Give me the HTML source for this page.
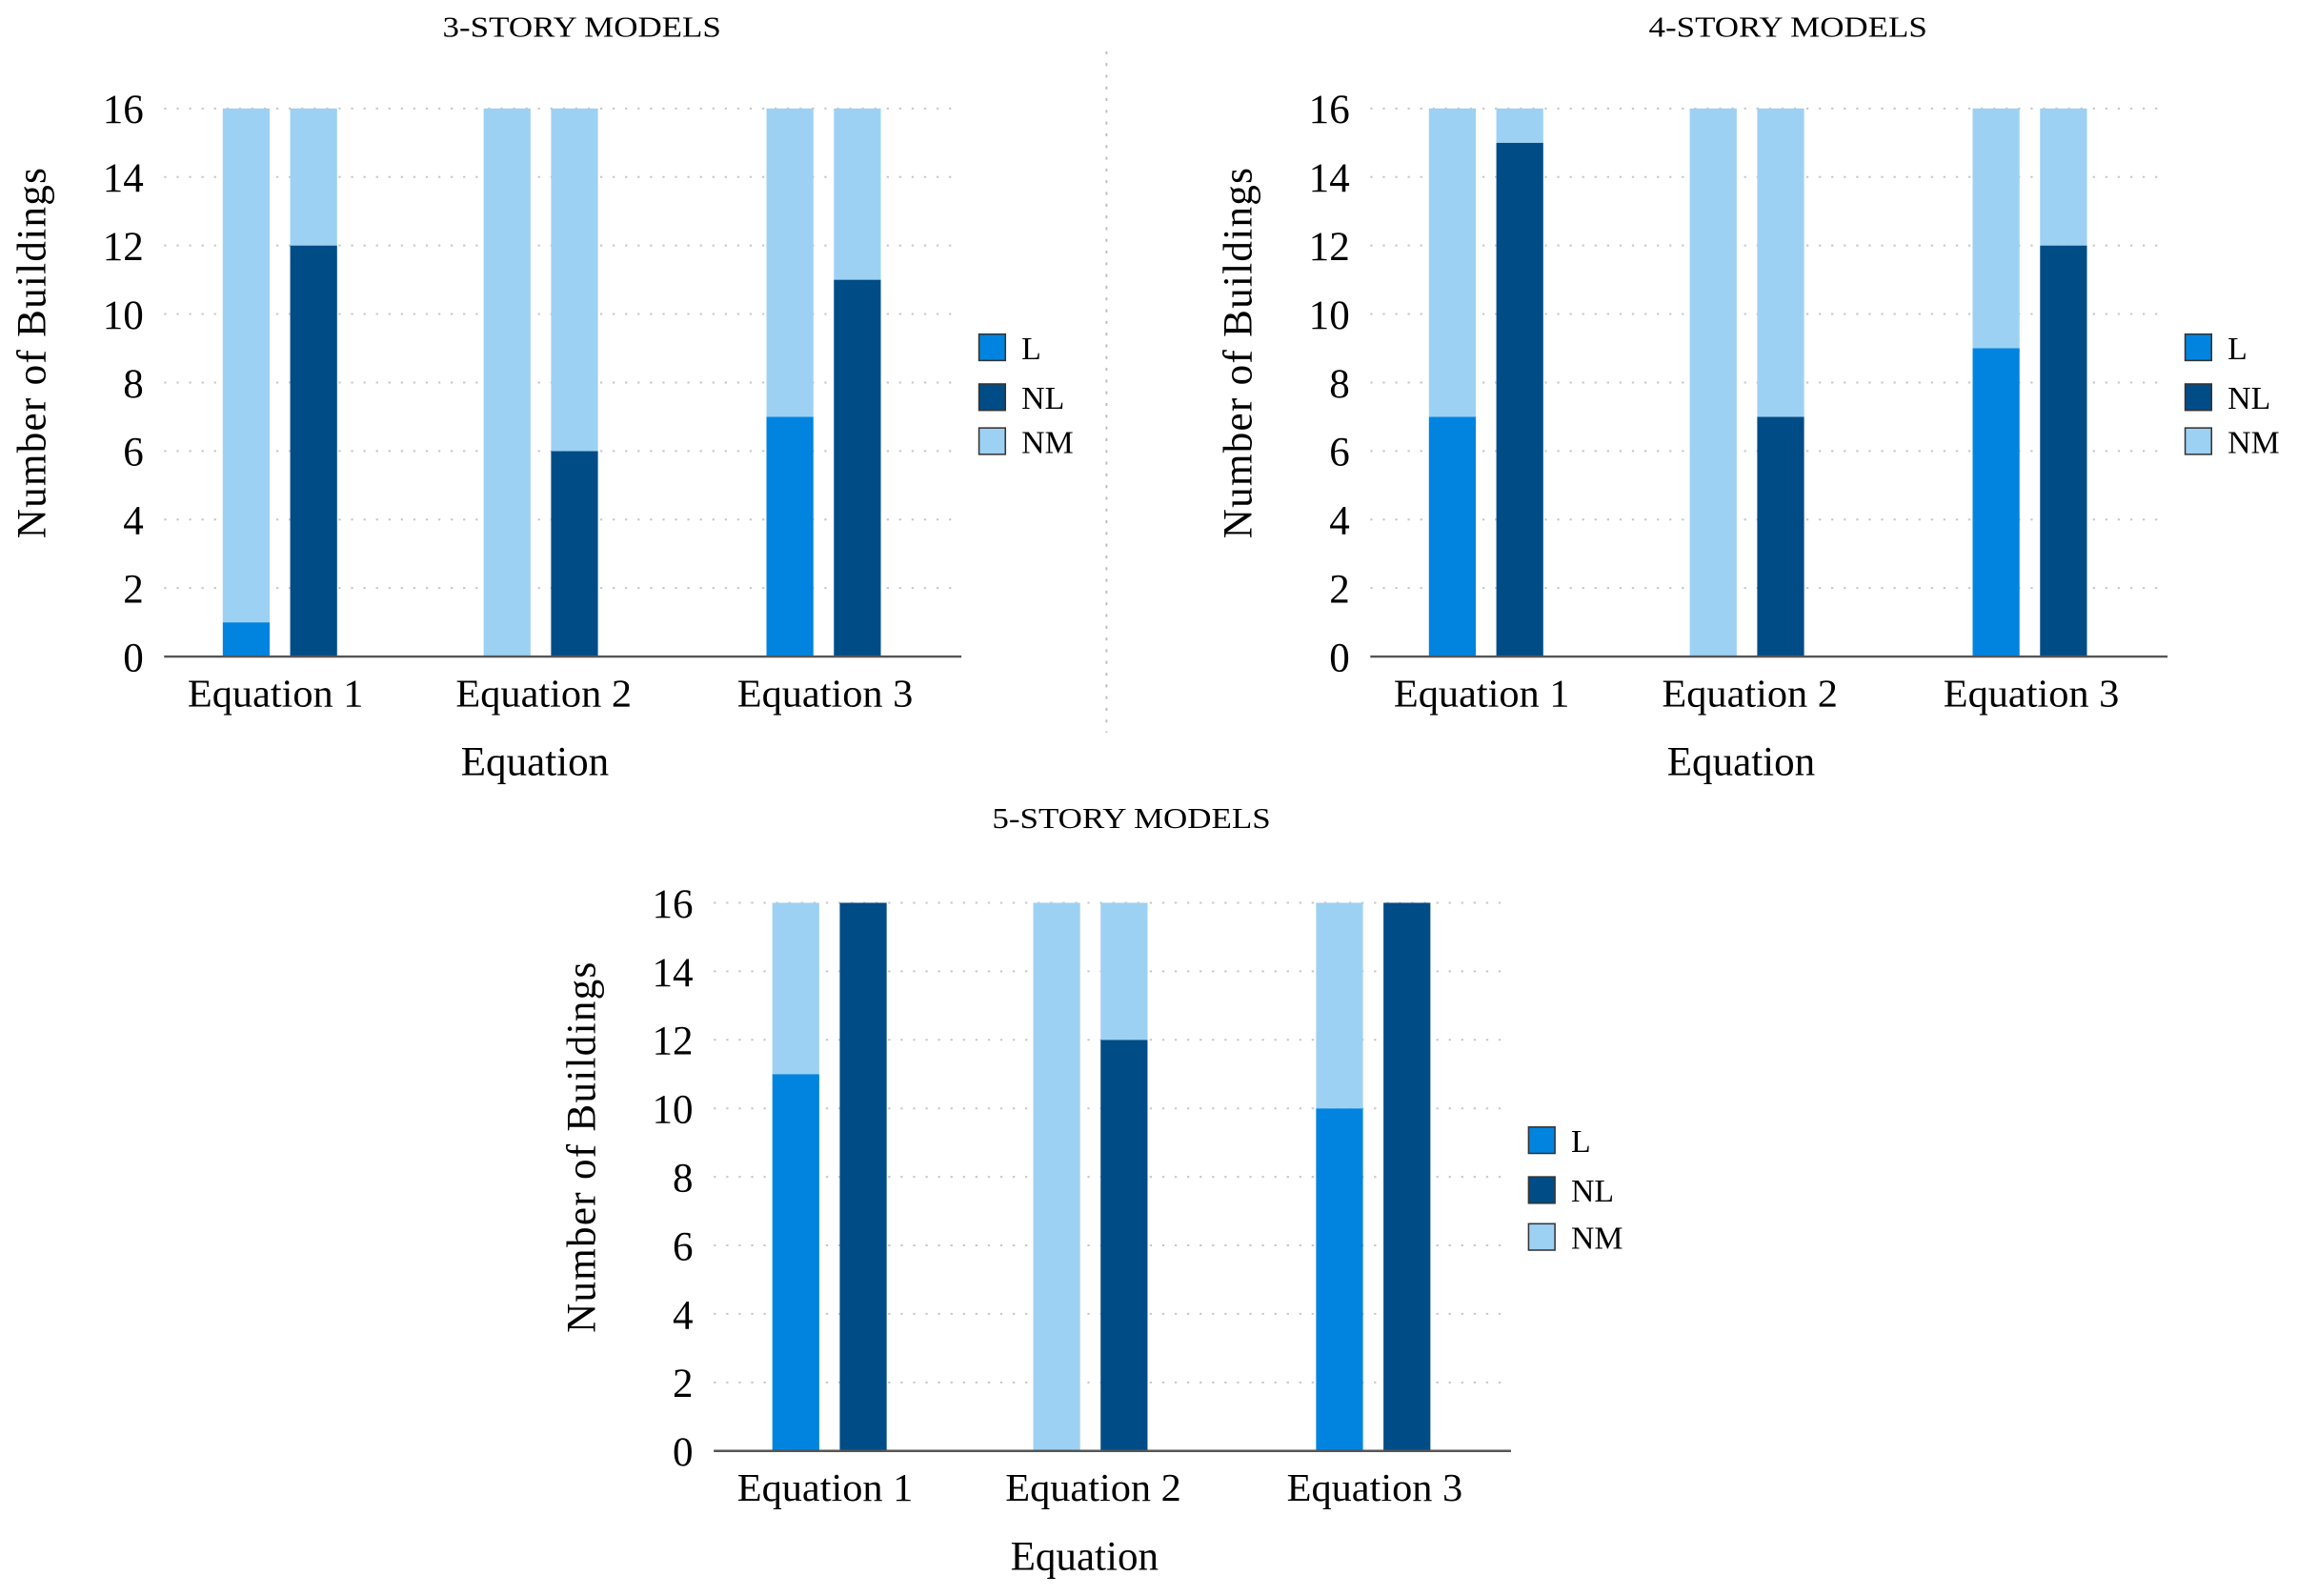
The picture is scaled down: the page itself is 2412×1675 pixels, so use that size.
<!DOCTYPE html>
<html><head><meta charset="utf-8"><style>
html,body{margin:0;padding:0;background:#fff;}
svg{display:block;font-family:"Liberation Serif",serif;}
svg text{font-family:"Liberation Serif",serif;}
</style></head><body>
<svg id="fig" width="2412" height="1675" viewBox="0 0 1568 1089" preserveAspectRatio="none" font-family="Liberation Serif, serif" xmlns="http://www.w3.org/2000/svg">
<line x1="755" y1="35" x2="755" y2="500" stroke="#bbb" stroke-width="1.2" stroke-dasharray="2,6"/>
</svg>
<script>
const categories = ["Equation 1", "Equation 2", "Equation 3"];
const yTicks = [0, 2, 4, 6, 8, 10, 12, 14, 16];
const legendLabels = ["L", "NL", "NM"];
const total = 16;
const l3 = [1, 0, 7];
const nl3 = [12, 6, 11];
const l4 = [7, 0, 9];
const nl4 = [15, 7, 12];
const l5 = [11, 0, 10];
const nl5 = [16, 12, 16];
const titles = ["3-STORY MODELS", "4-STORY MODELS", "5-STORY MODELS"];

const C_L = "#0084e0", C_NL = "#004c87", C_NM = "#9dd1f3";
const NS = "http://www.w3.org/2000/svg";
const svg = document.getElementById("fig");
function mk(tag, attrs, parent, text) {
  const e = document.createElementNS(NS, tag);
  for (const k in attrs) e.setAttribute(k, attrs[k]);
  if (text !== undefined) e.textContent = text;
  (parent || svg).appendChild(e);
  return e;
}

function chart(ox, oy, title, lVals, nlVals, key, titleY, legendYs) {
  const g = mk("g", {});
  
  
  const x0 = ox, x1 = ox + 544, yTop = oy, yBot = oy + 374;
  const yS = v => yBot - (v / total) * (yBot - yTop);
  const t = mk("text", {x: ox + 285, y: titleY, "text-anchor": "middle", "font-size": 20, textLength: 190, lengthAdjust: "spacingAndGlyphs"}, g, title);
  
  
  yTicks.forEach(v => {
    if (v > 0) {
      const gl = mk("line", {x1: x0, x2: x1, y1: yS(v), y2: yS(v), stroke: "#c8c8c8", "stroke-width": 1.3, "stroke-dasharray": "1.5,7"}, g);
      
      
    }
    const tl = mk("text", {x: x0 - 14, y: yS(v) + 10, "text-anchor": "end", "font-size": 28}, g, String(v));
    
    
  });
  const bw = 32;
  const offs = [40, 218, 411];
  const lab = [36, 41, 40];
  categories.forEach((c, i) => {
    const bx = x0 + offs[i];
    const segs = [
      [bx, 0, lVals[i], C_L, 'bar-l'],
      [bx, lVals[i], total, C_NM, 'bar-nm'],
      [bx + 46, 0, nlVals[i], C_NL, 'bar-nl'],
      [bx + 46, nlVals[i], total, C_NM, 'bar-nm']
    ];
    segs.forEach(s => {
      if (s[2] - s[1] <= 0) return;
      const r = mk("rect", {x: s[0], y: yS(s[2]), width: bw, height: yS(s[1]) - yS(s[2]), fill: s[3]}, g);
      
      
    });
    const cl = mk("text", {x: bx + lab[i], y: yBot + 34, "text-anchor": "middle", "font-size": 27, textLength: 120, lengthAdjust: "spacingAndGlyphs"}, g, c);
    
    
  });
  const ax = mk("line", {x1: x0, x2: x1, y1: yBot, y2: yBot, stroke: "#555", "stroke-width": 1.6}, g);
  
  
  const xt = mk("text", {x: x0 + 253, y: yBot + 81, "text-anchor": "middle", "font-size": 28, textLength: 101, lengthAdjust: "spacingAndGlyphs"}, g, "Equation");
  
  
  const yt = mk("text", {x: 0, y: 0, "text-anchor": "middle", "font-size": 28, textLength: 253, lengthAdjust: "spacing", transform: `translate(${x0 - 81},${(yTop + yBot) / 2 - 20}) rotate(-90)`}, g, "Number of Buildings");
  
  
  const cols = [C_L, C_NL, C_NM];
  legendLabels.forEach((lb, i) => {
    const ly = legendYs[i];
    const sq = mk("rect", {x: x0 + 556, y: ly - 9, width: 18, height: 18, fill: cols[i], stroke: "#333", "stroke-width": 1}, g);
    
    
    const lt = mk("text", {x: x0 + 585, y: ly + 8, "font-size": 22}, g, lb);
    
    
  });
}
chart(112, 74, titles[0], l3, nl3, '3-story', 25, [237, 271, 301]);
chart(935, 74, titles[1], l4, nl4, '4-story', 25, [237, 271, 301]);
chart(487, 616, titles[2], l5, nl5, '5-story', 565, [778, 812, 844]);
</script>
</body></html>
